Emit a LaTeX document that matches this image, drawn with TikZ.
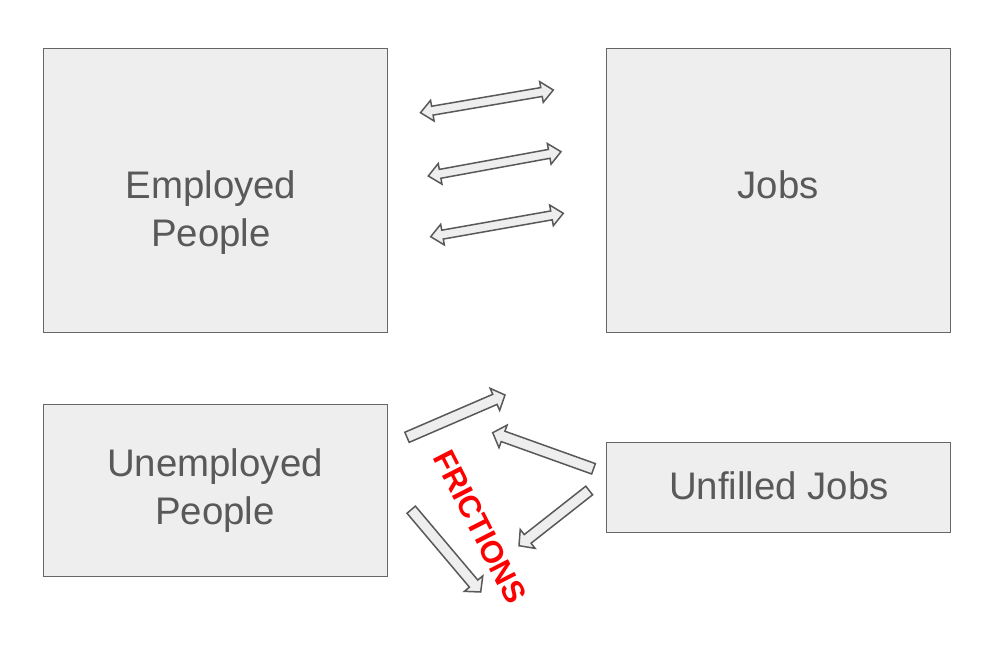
\documentclass[tikz,border=0pt]{standalone}
\usepackage{fontspec}
\setmainfont{Liberation Sans}
\usetikzlibrary{calc}
\definecolor{boxfill}{HTML}{EEEEEE}
\definecolor{boxline}{HTML}{666666}
\definecolor{txt}{HTML}{595959}
\definecolor{fricred}{HTML}{FF0000}
\newcommand\blockone[2]{%
  \coordinate (#2-h) at ($(#2)!11pt!(#1)$);
  \draw[blk] ($(#1)!5.5pt!90:(#2)$) -- ($(#2-h)!5.5pt!90:(#2)$) -- ($(#2-h)!12pt!90:(#2)$) -- (#2)
    -- ($(#2-h)!12pt!-90:(#2)$) -- ($(#2-h)!5.5pt!-90:(#2)$) -- ($(#1)!5.5pt!-90:(#2)$) -- cycle;}
\newcommand\blocktwo[2]{%
  \coordinate (#1-h) at ($(#1)!12pt!(#2)$);
  \coordinate (#2-h) at ($(#2)!12pt!(#1)$);
  \draw[blk] (#1) -- ($(#1-h)!10.5pt!90:(#2)$) -- ($(#1-h)!4.5pt!90:(#2)$)
    -- ($(#2-h)!4.5pt!-90:(#1)$) -- ($(#2-h)!10.5pt!-90:(#1)$) -- (#2)
    -- ($(#2-h)!10.5pt!90:(#1)$) -- ($(#2-h)!4.5pt!90:(#1)$)
    -- ($(#1-h)!4.5pt!-90:(#2)$) -- ($(#1-h)!10.5pt!-90:(#2)$) -- cycle;}
\begin{document}
\begin{tikzpicture}[x=1pt,y=-1pt,
  box/.style={draw=boxline,fill=boxfill,line width=0.9pt,anchor=north west,inner sep=0pt},
  lbl/.style={text=txt,font=\fontsize{38.4}{48}\selectfont,align=center,inner sep=0pt},
  blk/.style={draw=txt,fill=boxfill,line width=1.5pt,line join=miter}]
\useasboundingbox (0,0) rectangle (988,647);
% boxes
\node[box,minimum width=344pt,minimum height=284pt] (emp) at (43,48) {};
\node[box,minimum width=344pt,minimum height=284pt] (jobs) at (606,48) {};
\node[box,minimum width=344pt,minimum height=172pt] (unemp) at (43,404) {};
\node[box,minimum width=344pt,minimum height=90pt] (unfilled) at (606,442) {};
% labels
\node[lbl] (emplbl) at (211,213) {Employed\\People};
\node[lbl,anchor=base] (jobslbl) at (778,199) {Jobs};
\node[lbl] (unemplbl) at (215,491) {Unemployed\\People};
\node[lbl,anchor=base] (unfilledlbl) at (779,499) {Unfilled Jobs};
% double arrows
\coordinate (d1a) at (420.5,112.7); \coordinate (d1b) at (553.3,90);
\coordinate (d2a) at (428.3,176);   \coordinate (d2b) at (561,151.7);
\coordinate (d3a) at (430.7,236.7); \coordinate (d3b) at (563.3,213.3);
\blocktwo{d1a}{d1b}
\blocktwo{d2a}{d2b}
\blocktwo{d3a}{d3b}
% single arrows
\coordinate (sAt) at (407,437.3);   \coordinate (sAh) at (505,395);
\coordinate (sBt) at (593.5,468.8); \coordinate (sBh) at (492.7,432.7);
\coordinate (sCt) at (589.2,490.5); \coordinate (sCh) at (519,545.7);
\coordinate (sDt) at (411.2,509.7); \coordinate (sDh) at (480.7,592);
\blockone{sAt}{sAh}
\blockone{sBt}{sBh}
\blockone{sCt}{sCh}
\blockone{sDt}{sDh}
% frictions label
\node[text=fricred,font=\fontsize{31}{36}\bfseries\selectfont,rotate=-63,inner sep=0pt] (fric) at (480,527) {FRICTIONS};
\end{tikzpicture}
\end{document}
